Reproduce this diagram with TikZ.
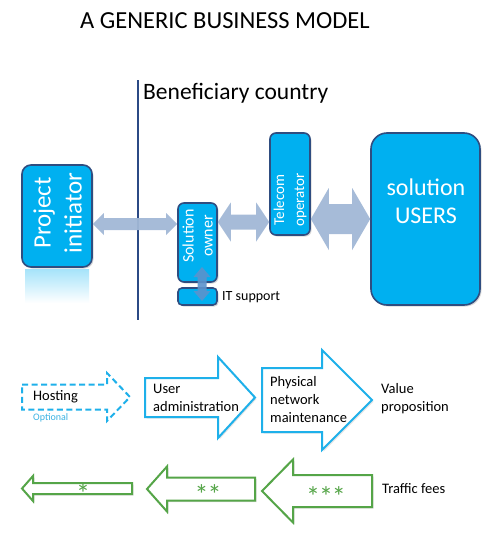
\documentclass[tikz,border=0pt]{standalone}
\usepackage{fontspec}
\setmainfont{Carlito}
\usetikzlibrary{calc,shadows}
\definecolor{boxcyan}{HTML}{00B0F0}
\definecolor{boxedge}{HTML}{2F4D80}
\definecolor{vline}{HTML}{2B4A85}
\definecolor{steel}{HTML}{A2B8D6}
\definecolor{steeldark}{HTML}{5C93CC}
\definecolor{outcyan}{HTML}{1EB0EA}
\definecolor{optcyan}{HTML}{3BB3E3}
\definecolor{greenarr}{HTML}{55A548}
\newcommand\dblarrowH[6]{%
  \path (#1 |- 0,#3) coordinate (L) (#2 |- 0,#3) coordinate (R);
  \fill[steelarrow] (L) -- ($(L)+(#6,-#5)$) -- ($(L)+(#6,-#4)$) -- ($(R)+(-#6,-#4)$) -- ($(R)+(-#6,-#5)$) -- (R) -- ($(R)+(-#6,#5)$) -- ($(R)+(-#6,#4)$) -- ($(L)+(#6,#4)$) -- ($(L)+(#6,#5)$) -- cycle;}
\newcommand\rarrow[7]{%
  \draw[#1] (#2,{#5-#6}) -- (#3,{#5-#6}) -- (#3,{#5-#7}) -- (#4,#5) -- (#3,{#5+#7}) -- (#3,{#5+#6}) -- (#2,{#5+#6}) -- cycle;}
\newcommand\larrow[7]{%
  \draw[#1] (#2,#5) -- (#3,{#5-#7}) -- (#3,{#5-#6}) -- (#4,{#5-#6}) -- (#4,{#5+#6}) -- (#3,{#5+#6}) -- (#3,{#5+#7}) -- cycle;}
\tikzset{
  box/.style={draw=boxedge, fill=boxcyan, line width=1.6pt,
    drop shadow={opacity=0.3, shadow xshift=1.5pt, shadow yshift=-1.5pt}},
  steelarrow/.style={fill=steel, opacity=0.95},
  txt/.style={anchor=base west, inner sep=0pt, font=\fontsize{14.5}{17}\selectfont},
  whitetxt/.style={text=white, inner sep=0pt, align=center},
  outarrow/.style={draw=outcyan, line width=2pt, fill=white,
    drop shadow={opacity=0.2, shadow xshift=1.5pt, shadow yshift=-1.5pt}},
  hostarrow/.style={draw=outcyan, line width=2pt, dash pattern=on 6pt off 3.5pt},
  grarrow/.style={draw=greenarr, line width=2pt, fill=white,
    drop shadow={opacity=0.25, shadow xshift=1.5pt, shadow yshift=-1.5pt}},
  startxt/.style={anchor=base, inner sep=0pt, text=greenarr, font=\fontsize{28}{32}\selectfont}
}
\begin{document}
\begin{tikzpicture}[x=1pt, y=-1pt]
\useasboundingbox[fill=white] (0,0) rectangle (500,536);

% title
\node[anchor=base west, inner sep=0pt, font=\fontsize{24.5}{29}\selectfont] (title) at (80,28) {A GENERIC BUSINESS MODEL};

% divider and country label
\coordinate (vtop) at (138,80);
\coordinate (vbot) at (138,320);
\draw[vline, line width=1.5pt] (vtop) -- (vbot);
\node[anchor=base west, inner sep=0pt, font=\fontsize{23.5}{28}\selectfont] (ben) at (143,99) {Beneficiary country};

% reflection of project initiator
\shade[top color=boxcyan!35, bottom color=white] (25,269) rectangle (89,303);

% boxes
\node[box, minimum width=70pt, minimum height=102pt, rounded corners=9pt] (pi) at (57,216) {};
\node[box, minimum width=39pt, minimum height=79pt, rounded corners=6pt] (so) at (197.5,242.5) {};
\node[box, minimum width=39pt, minimum height=17pt, rounded corners=4pt] (it) at (197.5,296.5) {};
\node[box, minimum width=40pt, minimum height=102pt, rounded corners=6pt] (tel) at (290,184) {};
\node[box, minimum width=109pt, minimum height=172pt, rounded corners=16pt] (us) at (425.5,219) {};

% box texts
\node[whitetxt, rotate=90, font=\fontsize{25}{31}\selectfont] (pitxt) at (57.5,213) {Project\\initiator};
\node[whitetxt, rotate=90, font=\fontsize{16}{19}\selectfont] (sotxt) at (197.5,236) {Solution\\owner};
\node[whitetxt, rotate=90, font=\fontsize{15}{20}\selectfont] (teltxt) at (290,200) {Telecom\\operator};
\node[text=white, inner sep=0pt, anchor=base, font=\fontsize{24}{28}\selectfont] (us1) at (426,195) {solution};
\node[text=white, inner sep=0pt, anchor=base, font=\fontsize{24}{28}\selectfont] (us2) at (426,223) {USERS};
\node[txt, font=\fontsize{14}{17}\selectfont] (itl) at (222,300) {IT support};

% steel double arrows
\dblarrowH{pi.east}{so.west}{224}{6}{11}{11}
\dblarrowH{so.east}{tel.west}{222}{7.5}{19.5}{13}
\dblarrowH{tel.east}{us.west}{219}{15}{31}{18}
\coordinate (vc) at (202,284);
\fill[steeldark, opacity=0.9] ($(vc)+(0,-17)$) -- ($(vc)+(8.5,-7)$) -- ($(vc)+(4.5,-7)$) -- ($(vc)+(4.5,7)$) -- ($(vc)+(8.5,7)$) -- ($(vc)+(0,17)$) -- ($(vc)+(-8.5,7)$) -- ($(vc)+(-4.5,7)$) -- ($(vc)+(-4.5,-7)$) -- ($(vc)+(-8.5,-7)$) -- cycle;

% value chain arrows
\rarrow{hostarrow}{22}{107}{130}{397}{12.5}{24}
\rarrow{outarrow}{145}{218}{255}{397.5}{19.5}{40.5}
\rarrow{outarrow}{262}{322}{372}{400}{32}{50}
\node[txt] (host) at (33,400) {Hosting};
\node[txt, text=optcyan, font=\fontsize{10}{12}\selectfont] (opt) at (33,420) {Optional};
\node[txt] (ua1) at (153,393) {User};
\node[txt] (ua2) at (153,411) {administration};
\node[txt] (pn1) at (270,386) {Physical};
\node[txt] (pn2) at (270,404) {network};
\node[txt] (pn3) at (270,422) {maintenance};
\node[txt] (vp1) at (381,393) {Value};
\node[txt] (vp2) at (381,411) {proposition};

% revenue arrows
\larrow{grarrow}{22}{33}{132}{488.5}{5.5}{12.5}
\larrow{grarrow}{147}{167}{255}{489}{11.5}{22.5}
\larrow{grarrow}{262}{293}{372}{491}{16}{31.5}
\node[startxt] (s1) at (83,503.5) {*};
\node[startxt] (s2) at (208,504.5) {*\hspace{-1pt}*};
\node[startxt] (s3) at (326,506.5) {*\hspace{-1pt}*\hspace{-1pt}*};
\node[txt] (tf) at (382,493) {Traffic fees};
\end{tikzpicture}
\end{document}
